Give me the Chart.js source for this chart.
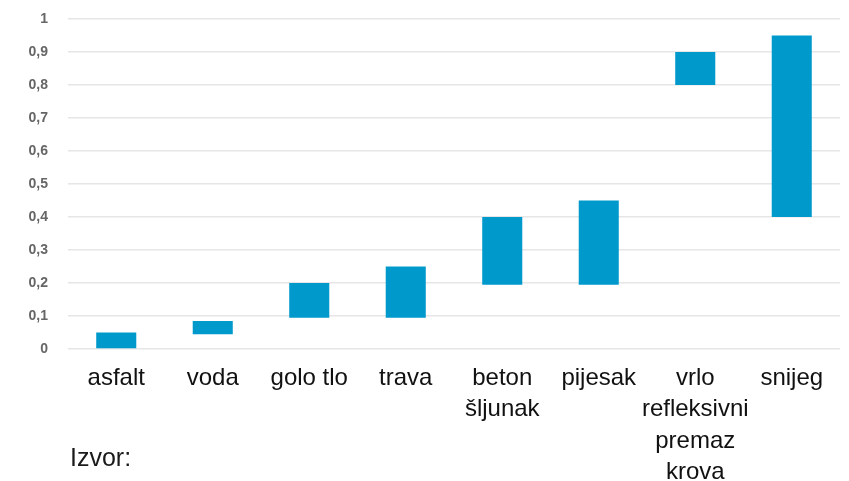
<!DOCTYPE html>
<html>
<head>
<meta charset="utf-8">
<script src="https://cdn.jsdelivr.net/npm/chart.js@4"></script>
<style>
  html, body { margin: 0; padding: 0; background: #fff; }
  .wrap { position: relative; width: 849px; height: 481px; }
  .izvor { position: absolute; left: 70px; top: 443px; font: 25px "Liberation Sans", Arial, sans-serif; color: #1a1a1a; }
</style>
</head>
<body>
<div class="wrap">
  <canvas id="myChart" width="849" height="481"></canvas>
  <div class="izvor">Izvor:</div>
</div>
<script>
// surfaces (albedo ranges)
const categories = ['asfalt', 'voda', 'golo tlo', 'trava', ['beton', 'šljunak'], 'pijesak', ['vrlo', 'refleksivni', 'premaz', 'krova'], 'snijeg']
const lowValues = [0, 0.045, 0.095, 0.095, 0.195, 0.195, 0.8, 0.4]
const highValues = [0.05, 0.085, 0.2, 0.25, 0.4, 0.45, 0.9, 0.95]
const yTickLabels = ['0', '0,1', '0,2', '0,3', '0,4', '0,5', '0,6', '0,7', '0,8', '0,9', '1']

const ranges = lowValues.map((lo, i) => [lo, highValues[i]])

const ctx = document.getElementById('myChart').getContext('2d')

new Chart(ctx, {
    type: 'bar',
    data: {
        labels: categories,
        datasets: [
            {
                label: 'albedo',
                data: ranges,
                backgroundColor: '#0099cc',
                borderWidth: 0,
                borderSkipped: false,
                barPercentage: 0.415,
                categoryPercentage: 1
            }
        ]
    },
    options: {
        responsive: false,
        animation: false,
        layout: { padding: { top: 19, right: 9, left: 0, bottom: 0 } },
        plugins: {
            legend: { display: false },
            tooltip: { enabled: false }
        },
        scales: {
            x: {
                grid: { display: false, drawTicks: false },
                border: { display: false },
                ticks: {
                    color: '#111',
                    padding: 14,
                    maxRotation: 0,
                    autoSkip: false,
                    font: { family: '"Liberation Sans", Arial, sans-serif', size: 24, lineHeight: 1.3 }
                },
                afterFit: (scale) => { scale.height = 132 }
            },
            y: {
                min: 0,
                max: 1,
                grid: { color: '#e6e6e6', lineWidth: 1.5, drawTicks: false },
                border: { display: false },
                ticks: {
                    stepSize: 0.1,
                    padding: 20,
                    color: '#666',
                    font: { family: '"Liberation Sans", Arial, sans-serif', size: 14, weight: 'bold' },
                    callback: (value, index) => yTickLabels[index]
                },
                afterFit: (scale) => {
                    scale.width = 68
                    // tick padding should not push the plot area down
                    scale.paddingTop = 8
                    scale.paddingBottom = 8
                }
            }
        }
    }
})
</script>
</body>
</html>
